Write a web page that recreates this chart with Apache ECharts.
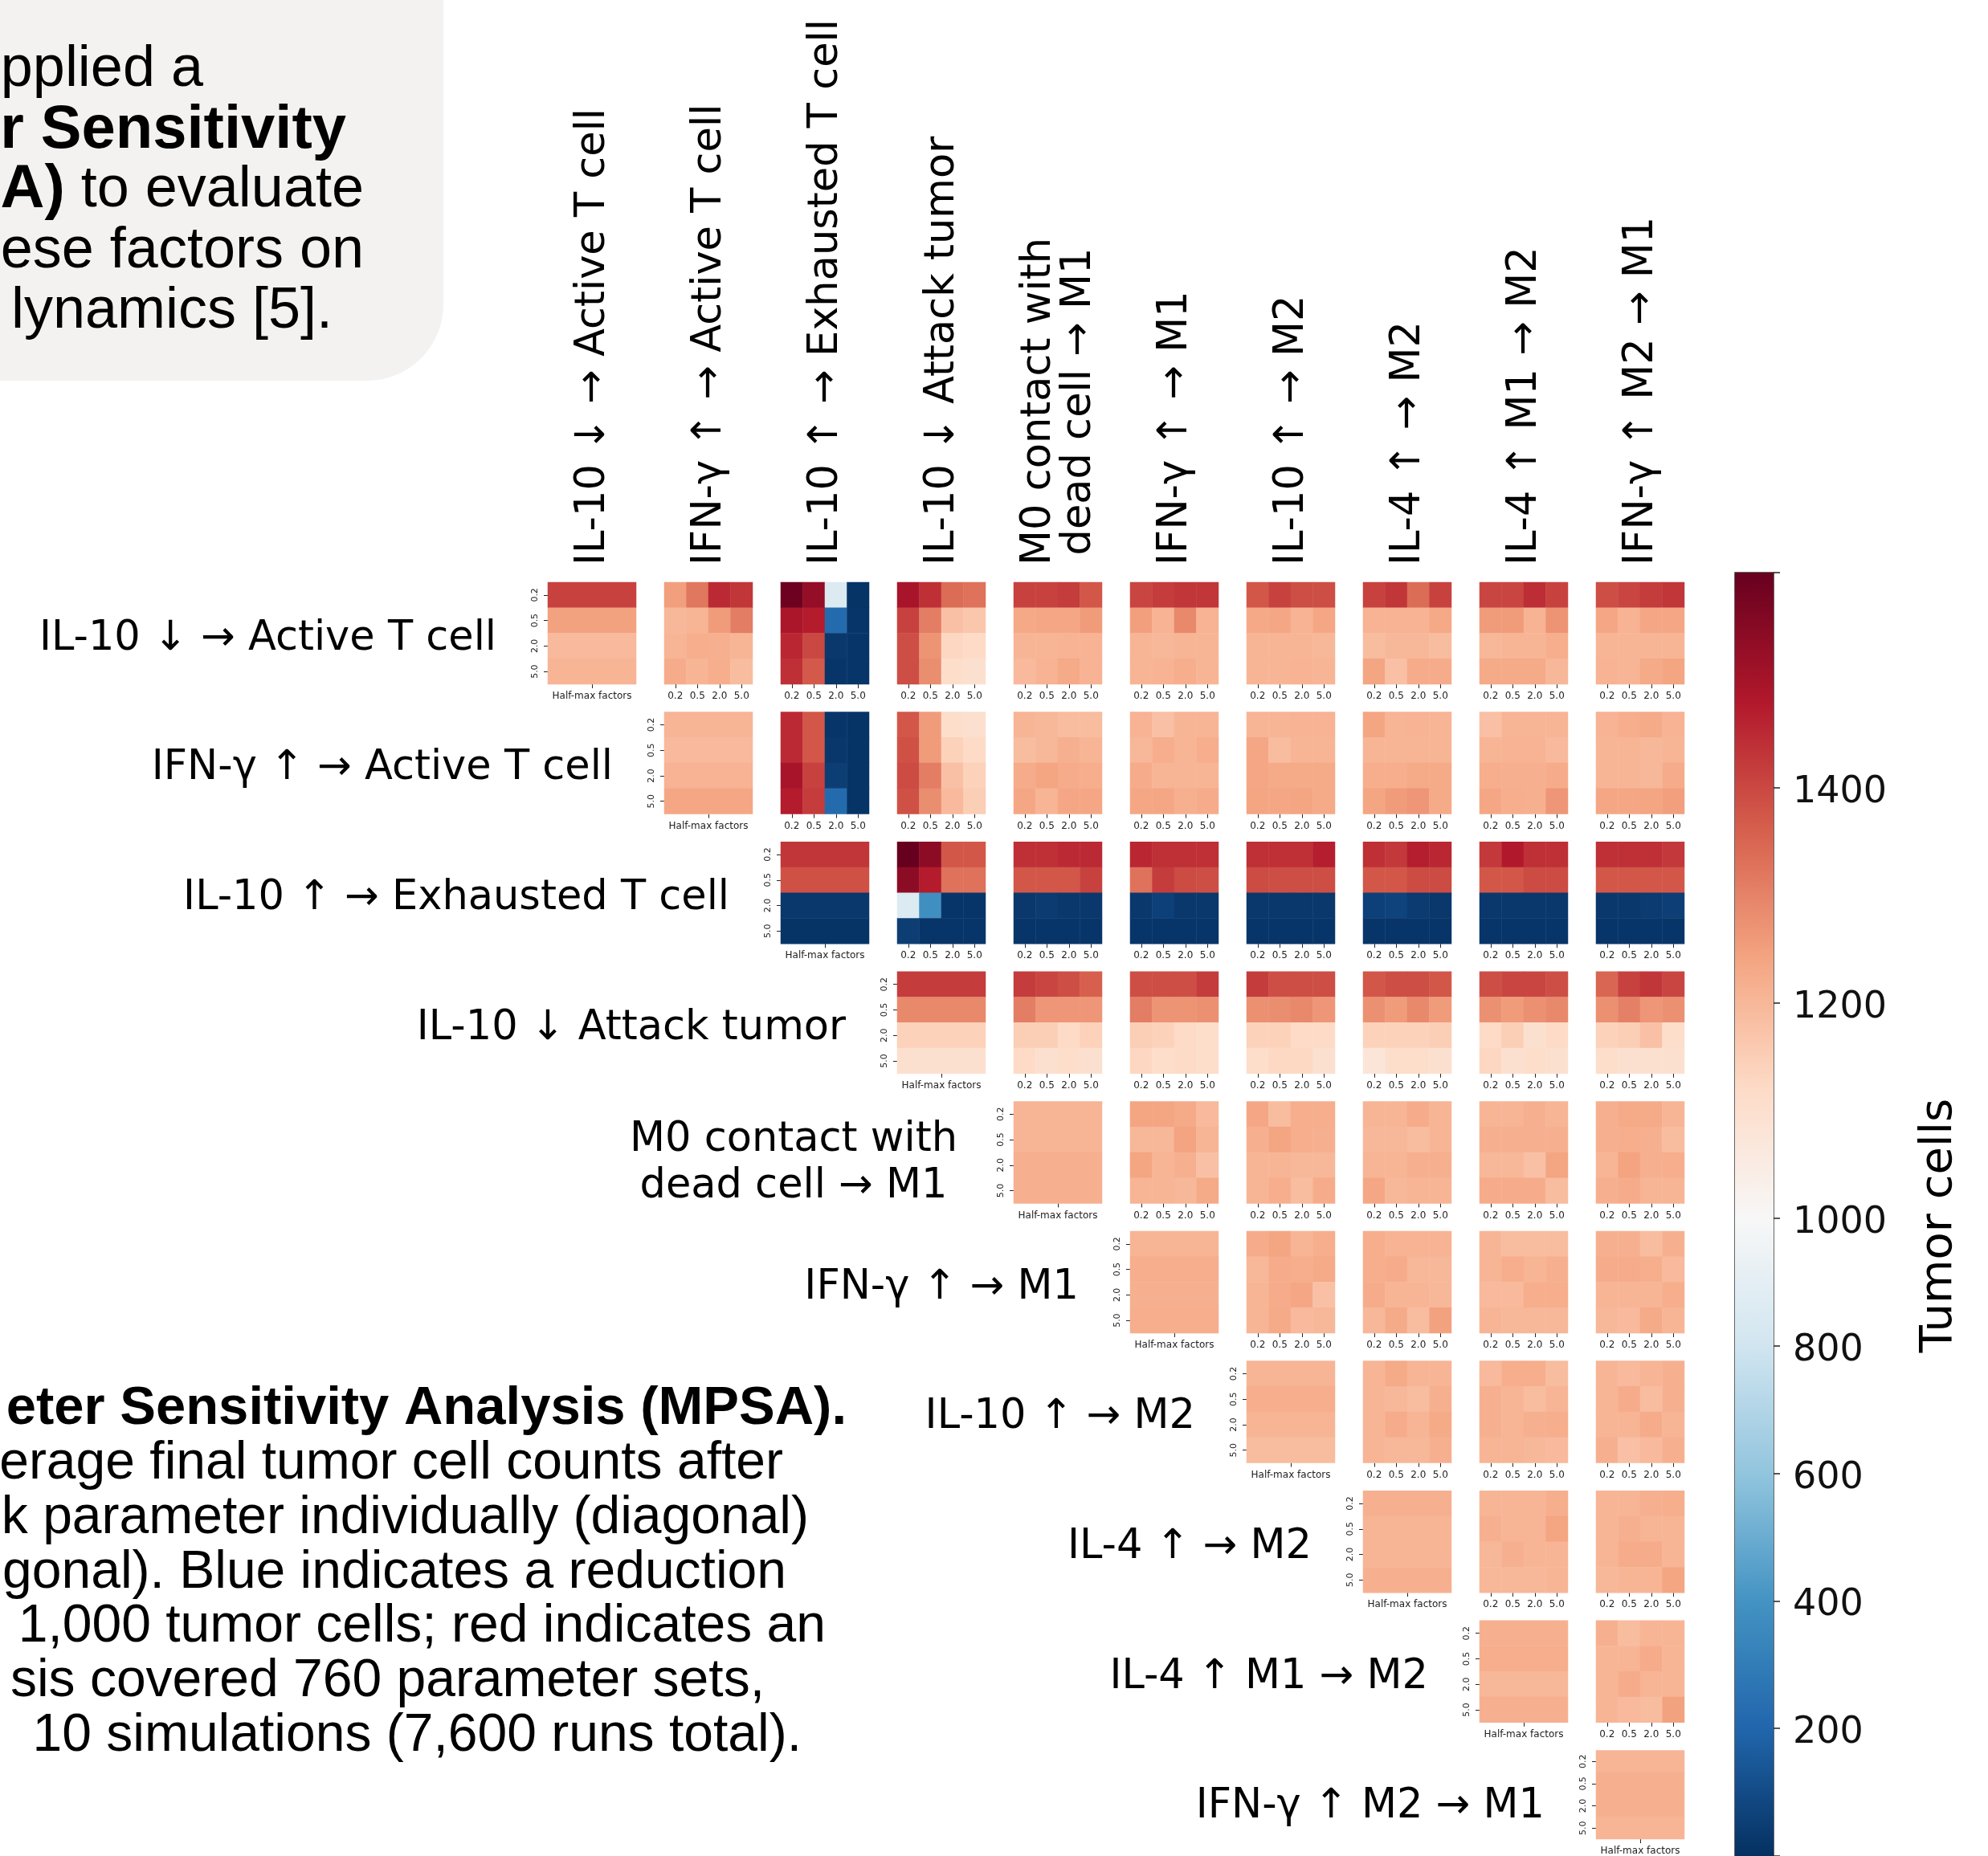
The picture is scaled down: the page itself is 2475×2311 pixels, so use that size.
<!DOCTYPE html>
<html>
<head>
<meta charset="utf-8">
<title>MPSA heatmap matrix</title>
<script src="https://cdn.jsdelivr.net/npm/echarts@6/dist/echarts.min.js"></script>
<style>
    html, body { margin: 0; padding: 0; background: #ffffff; }
    #chart { width: 2475px; height: 2311px; }
</style>
</head>
<body>
<div id="chart"></div>
<script>
// half-max factor levels, the same for every parameter
const factors = ['0.2', '0.5', '2.0', '5.0'];

// the ten parameters (rows and columns of the matrix)
const params = [
    'IL-10 ↓ → Active T cell',
    'IFN-γ ↑ → Active T cell',
    'IL-10 ↑ → Exhausted T cell',
    'IL-10 ↓ Attack tumor',
    'M0 contact with\ndead cell → M1',
    'IFN-γ ↑ → M1',
    'IL-10 ↑ → M2',
    'IL-4 ↑ → M2',
    'IL-4 ↑ M1 → M2',
    'IFN-γ ↑ M2 → M1'
];

// colorbar ticks
const cbUpperTicks = [1000, 1200, 1400];
const cbLowerTicks = [200, 400, 600, 800];

// diagonal: one parameter varied alone (rows = 0.2, 0.5, 2.0, 5.0)
const diagonal = [
    [1410, 1245, 1195, 1205],
    [1205, 1195, 1210, 1235],
    [1430, 1385, 30, 15],
    [1420, 1290, 1140, 1100],
    [1205, 1205, 1215, 1215],
    [1205, 1220, 1215, 1220],
    [1205, 1220, 1205, 1190],
    [1215, 1205, 1205, 1215],
    [1215, 1220, 1200, 1215],
    [1205, 1215, 1215, 1205]
];

// off-diagonal pairs, one array per row; each matrix: rows = row factor, cols = column factor
const pairsRow0 = [
    [[1250, 1320, 1450, 1430], [1200, 1205, 1255, 1310], [1205, 1220, 1215, 1205], [1225, 1205, 1220, 1190]],
    [[1590, 1530, 860, 15], [1490, 1475, 220, 20], [1455, 1400, 30, 20], [1440, 1370, 20, 20]],
    [[1495, 1440, 1340, 1330], [1410, 1310, 1180, 1165], [1390, 1270, 1130, 1120], [1390, 1280, 1110, 1100]],
    [[1410, 1410, 1420, 1375], [1232, 1235, 1235, 1255], [1205, 1205, 1210, 1210], [1195, 1210, 1230, 1210]],
    [[1405, 1420, 1430, 1430], [1250, 1210, 1290, 1210], [1205, 1200, 1205, 1205], [1205, 1210, 1220, 1205]],
    [[1375, 1410, 1390, 1390], [1232, 1235, 1210, 1235], [1205, 1205, 1205, 1200], [1205, 1205, 1210, 1205]],
    [[1410, 1430, 1340, 1410], [1210, 1210, 1210, 1232], [1190, 1200, 1200, 1190], [1240, 1180, 1225, 1225]],
    [[1405, 1405, 1445, 1410], [1255, 1255, 1210, 1270], [1200, 1205, 1205, 1220], [1230, 1230, 1230, 1200]],
    [[1390, 1405, 1420, 1430], [1235, 1210, 1235, 1235], [1205, 1205, 1205, 1205], [1210, 1205, 1230, 1240]]
];
const pairsRow1 = [
    [[1450, 1375, 20, 15], [1450, 1375, 25, 15], [1495, 1410, 50, 15], [1475, 1420, 220, 15]],
    [[1375, 1255, 1110, 1100], [1385, 1255, 1140, 1120], [1395, 1310, 1180, 1140], [1385, 1280, 1195, 1150]],
    [[1205, 1200, 1190, 1190], [1190, 1200, 1215, 1205], [1225, 1240, 1225, 1220], [1235, 1205, 1235, 1235]],
    [[1210, 1180, 1205, 1205], [1200, 1220, 1205, 1220], [1225, 1205, 1205, 1205], [1235, 1235, 1215, 1225]],
    [[1205, 1205, 1210, 1210], [1235, 1190, 1205, 1205], [1235, 1230, 1230, 1230], [1240, 1235, 1240, 1230]],
    [[1240, 1205, 1210, 1205], [1205, 1205, 1205, 1205], [1220, 1220, 1230, 1230], [1240, 1255, 1265, 1230]],
    [[1180, 1205, 1205, 1205], [1205, 1210, 1210, 1195], [1220, 1215, 1215, 1225], [1235, 1220, 1215, 1265]],
    [[1210, 1220, 1230, 1210], [1205, 1205, 1200, 1205], [1205, 1205, 1200, 1225], [1235, 1235, 1240, 1250]]
];
const pairsRow2 = [
    [[1600, 1540, 1375, 1375], [1540, 1475, 1330, 1330], [860, 380, 20, 20], [50, 20, 20, 20]],
    [[1440, 1440, 1450, 1450], [1375, 1375, 1375, 1410], [30, 40, 30, 30], [20, 20, 20, 20]],
    [[1455, 1440, 1440, 1440], [1330, 1420, 1395, 1390], [30, 60, 30, 30], [20, 20, 20, 20]],
    [[1440, 1440, 1440, 1470], [1395, 1390, 1390, 1390], [30, 30, 30, 30], [20, 20, 20, 20]],
    [[1440, 1425, 1470, 1455], [1375, 1375, 1395, 1395], [60, 70, 40, 30], [20, 20, 20, 20]],
    [[1425, 1480, 1440, 1440], [1375, 1375, 1395, 1395], [30, 30, 30, 30], [20, 20, 20, 20]],
    [[1440, 1440, 1440, 1425], [1375, 1375, 1375, 1375], [30, 30, 40, 55], [20, 20, 20, 20]]
];
const pairsRow3 = [
    [[1420, 1405, 1390, 1360], [1310, 1265, 1265, 1265], [1150, 1150, 1120, 1140], [1120, 1100, 1110, 1100]],
    [[1390, 1390, 1390, 1420], [1310, 1270, 1270, 1275], [1150, 1140, 1120, 1110], [1130, 1110, 1120, 1110]],
    [[1420, 1390, 1390, 1390], [1275, 1280, 1290, 1265], [1140, 1140, 1120, 1120], [1110, 1125, 1125, 1100]],
    [[1375, 1390, 1390, 1375], [1275, 1255, 1290, 1255], [1140, 1140, 1140, 1150], [1075, 1110, 1110, 1100]],
    [[1390, 1405, 1405, 1390], [1275, 1255, 1275, 1290], [1120, 1150, 1100, 1120], [1130, 1100, 1110, 1100]],
    [[1350, 1410, 1430, 1405], [1275, 1305, 1265, 1275], [1140, 1150, 1180, 1110], [1110, 1100, 1100, 1100]]
];
const pairsRow4 = [
    [[1240, 1240, 1230, 1195], [1200, 1200, 1242, 1205], [1240, 1205, 1215, 1180], [1205, 1205, 1200, 1230]],
    [[1235, 1190, 1220, 1220], [1215, 1240, 1220, 1215], [1205, 1205, 1200, 1200], [1205, 1220, 1190, 1225]],
    [[1205, 1205, 1225, 1205], [1200, 1200, 1190, 1205], [1205, 1205, 1215, 1215], [1235, 1200, 1205, 1205]],
    [[1205, 1205, 1215, 1205], [1215, 1215, 1215, 1215], [1200, 1200, 1180, 1240], [1225, 1225, 1225, 1190]],
    [[1215, 1230, 1230, 1205], [1215, 1220, 1215, 1190], [1205, 1242, 1215, 1220], [1215, 1225, 1205, 1205]]
];
const pairsRow5 = [
    [[1225, 1240, 1205, 1220], [1200, 1225, 1220, 1230], [1205, 1225, 1235, 1180], [1205, 1230, 1195, 1200]],
    [[1220, 1210, 1210, 1210], [1220, 1225, 1200, 1200], [1225, 1205, 1205, 1200], [1200, 1230, 1190, 1245]],
    [[1205, 1190, 1190, 1190], [1205, 1220, 1205, 1215], [1195, 1195, 1220, 1220], [1205, 1200, 1200, 1200]],
    [[1215, 1215, 1190, 1215], [1225, 1225, 1220, 1195], [1205, 1205, 1205, 1220], [1200, 1195, 1230, 1205]]
];
const pairsRow6 = [
    [[1205, 1230, 1205, 1205], [1205, 1200, 1190, 1215], [1205, 1225, 1205, 1230], [1205, 1200, 1200, 1215]],
    [[1195, 1220, 1220, 1190], [1215, 1205, 1190, 1205], [1215, 1205, 1215, 1220], [1205, 1205, 1200, 1195]],
    [[1205, 1195, 1205, 1215], [1205, 1225, 1190, 1215], [1205, 1205, 1225, 1205], [1215, 1180, 1195, 1215]]
];
const pairsRow7 = [
    [[1205, 1205, 1205, 1220], [1215, 1205, 1205, 1240], [1200, 1215, 1205, 1205], [1200, 1200, 1200, 1205]],
    [[1205, 1205, 1215, 1220], [1205, 1215, 1205, 1205], [1205, 1225, 1225, 1205], [1200, 1205, 1205, 1240]]
];
const pairsRow8 = [
    [[1215, 1190, 1205, 1205], [1205, 1205, 1225, 1205], [1205, 1225, 1205, 1205], [1205, 1195, 1190, 1245]]
];
const pairRows = [pairsRow0, pairsRow1, pairsRow2, pairsRow3, pairsRow4, pairsRow5, pairsRow6, pairsRow7, pairsRow8];

// RdBu_r with a two-slope norm: 0 -> 1000 -> 1600
const rdbuR = ['#053061', '#2166ac', '#4393c3', '#92c5de', '#d1e5f0', '#f7f7f7',
    '#fddbc7', '#f4a582', '#d6604d', '#b2182b', '#67001f'];
const vMin = 0, vCenter = 1000, vMax = 1600;

function norm(v) {
    const t = v < vCenter ? 0.5 * (v - vMin) / (vCenter - vMin) : 0.5 + 0.5 * (v - vCenter) / (vMax - vCenter);
    return Math.max(0, Math.min(1, t));
}
function hexRgb(h) {
    return [parseInt(h.slice(1, 3), 16), parseInt(h.slice(3, 5), 16), parseInt(h.slice(5, 7), 16)];
}
function colorAt(v) {
    const p = norm(v) * 10;
    const i = Math.min(9, Math.floor(p));
    const f = p - i;
    const a = hexRgb(rdbuR[i]), b = hexRgb(rdbuR[i + 1]);
    const c = a.map((x, k) => Math.round(x + (b[k] - x) * f));
    return 'rgb(' + c.join(',') + ')';
}
const cmapStops = [];
for (let v = vMin; v <= vMax; v += 20) cmapStops.push(colorAt(v));

// layout
const colLeft = 682, colStep = 145, cellW = 110;
const rowTop = 725, rowStep = 161.6, cellH = 127;
const fontMain = 'DejaVu Sans';
const fontSlide = 'Liberation Sans';

const grids = [], xAxes = [], yAxes = [], series = [], heatIdx = [];
const tickStyle = { show: true, length: 5, alignWithLabel: true, lineStyle: { color: '#222', width: 1 } };

for (let i = 0; i < 10; i++) {
    for (let j = i; j < 10; j++) {
        const k = grids.length;
        const isDiag = i === j;
        grids.push({
            left: colLeft + colStep * j,
            top: rowTop + rowStep * i,
            width: cellW,
            height: cellH
        });
        xAxes.push({
            type: 'category',
            gridIndex: k,
            data: isDiag ? ['Half-max factors'] : factors,
            axisLine: { show: false },
            axisTick: tickStyle,
            axisLabel: { fontSize: 12, color: '#222', margin: 9, interval: 0, fontFamily: fontMain },
            splitArea: { show: false }
        });
        yAxes.push({
            type: 'category',
            gridIndex: k,
            data: factors,
            inverse: true,
            show: isDiag,
            axisLine: { show: false },
            axisTick: tickStyle,
            axisLabel: { fontSize: 11, color: '#222', rotate: 90, margin: 10, interval: 0, fontFamily: fontMain },
            splitArea: { show: false }
        });
        const data = [];
        if (isDiag) {
            diagonal[i].forEach((v, r) => data.push([0, r, v]));
        } else {
            const m = pairRows[i][j - i - 1];
            m.forEach((row, r) => row.forEach((v, c) => data.push([c, r, v])));
        }
        heatIdx.push(series.length);
        series.push({
            type: 'heatmap',
            xAxisIndex: k,
            yAxisIndex: k,
            data: data,
            emphasis: { disabled: true },
            itemStyle: { borderWidth: 0 }
        });
    }
}

// colorbar: two linear halves stacked
const cbLeft = 2160, cbWidth = 48, cbTop = 713, cbMid = 1517, cbBottom = 2325;
function cbGradient(hi, lo) {
    const stops = [];
    for (let s = 0; s <= 20; s++) {
        const v = hi - (hi - lo) * s / 20;
        stops.push({ offset: s / 20, color: colorAt(v) });
    }
    return new echarts.graphic.LinearGradient(0, 0, 0, 1, stops);
}
const cbHalves = [
    { top: cbTop, height: cbMid - cbTop, min: vCenter, max: vMax, ticks: cbUpperTicks },
    { top: cbMid, height: cbBottom - cbMid, min: vMin, max: vCenter, ticks: cbLowerTicks }
];
cbHalves.forEach(h => {
    const k = grids.length;
    grids.push({ left: cbLeft, width: cbWidth, top: h.top, height: h.height });
    xAxes.push({ type: 'category', gridIndex: k, data: ['cb'], show: false });
    yAxes.push({
        type: 'value',
        gridIndex: k,
        min: h.min,
        max: h.max,
        interval: 200,
        position: 'right',
        axisLine: { show: false },
        splitLine: { show: false },
        axisTick: { show: true, length: 8, lineStyle: { color: '#222', width: 1.5 } },
        axisLabel: {
            fontSize: 46,
            color: '#111',
            margin: 24,
            verticalAlign: 'top',
            lineHeight: 12,
            fontFamily: fontMain,
            formatter: v => (h.ticks.indexOf(v) >= 0 ? String(v) : '')
        }
    });
    series.push({
        type: 'custom',
        xAxisIndex: k,
        yAxisIndex: k,
        silent: true,
        data: [[0, h.min, h.max]],
        renderItem: (p, api) => {
            const top = api.coord([0, api.value(2)]);
            const bot = api.coord([0, api.value(1)]);
            const w = api.size([1, 0])[0];
            return {
                type: 'rect',
                shape: { x: top[0] - w / 2, y: top[1], width: w, height: bot[1] - top[1] },
                style: { fill: cbGradient(api.value(2), api.value(1)) }
            };
        }
    });
});

// texts
const graphics = [];

// slide text box (top-left, cut off)
graphics.push({
    type: 'rect', z: -10,
    shape: { x: -120, y: -120, width: 672, height: 594, r: 95 },
    style: { fill: '#f4f2f1' }
});
const slideTop = [
    { t: 'pplied a', x: 253, y: 87 },
    { t: '{b|r Sensitivity}', x: 431, y: 163 },
    { t: '{b|A)} to evaluate', x: 453, y: 237 },
    { t: 'ese factors on', x: 453, y: 313 },
    { t: 'lynamics [5].', x: 414, y: 388 }
];
slideTop.forEach(l => graphics.push({
    type: 'text', x: l.x, y: l.y,
    style: {
        text: l.t, fill: '#000', fontSize: 72, fontFamily: fontSlide,
        align: 'right', verticalAlign: 'middle',
        rich: { b: { fontWeight: 'bold', fontSize: 76, fontFamily: fontSlide, fill: '#000' } }
    }
}));

const slideBottom = [
    { t: '{b|eter Sensitivity Analysis (MPSA).}', x: 1054, y: 1755 },
    { t: 'erage final tumor cell counts after', x: 975, y: 1823 },
    { t: 'k parameter individually (diagonal)', x: 1007, y: 1891 },
    { t: 'gonal). Blue indicates a reduction', x: 979, y: 1959 },
    { t: '1,000 tumor cells; red indicates an', x: 1028, y: 2026 },
    { t: 'sis covered 760 parameter sets,', x: 952, y: 2094 },
    { t: '10 simulations (7,600 runs total).', x: 998, y: 2162 }
];
slideBottom.forEach(l => graphics.push({
    type: 'text', x: l.x, y: l.y,
    style: {
        text: l.t, fill: '#000', fontSize: 66, fontFamily: fontSlide,
        align: 'right', verticalAlign: 'middle',
        rich: { b: { fontWeight: 'bold', fontSize: 67, fontFamily: fontSlide, fill: '#000' } }
    }
}));

// row labels (left of each diagonal heatmap) and column labels (rotated, on top)
params.forEach((name, i) => {
    const twoLine = name.indexOf('\n') >= 0;
    const diagLeft = colLeft + colStep * i;
    const rowMid = rowTop + rowStep * i + cellH / 2;
    graphics.push({
        type: 'text',
        x: twoLine ? diagLeft - 274 : diagLeft - 64,
        y: twoLine ? rowMid + 14 : rowMid + 7,
        style: {
            text: name, fill: '#000', fontSize: 51, fontFamily: fontMain,
            align: twoLine ? 'center' : 'right', verticalAlign: 'middle', lineHeight: 58
        }
    });
    const colMid = colLeft + colStep * i + cellW / 2;
    graphics.push({
        type: 'text',
        x: colMid + 2,
        y: twoLine ? 500 : 704,
        rotation: Math.PI / 2,
        style: {
            text: name, fill: '#000', fontSize: 51, fontFamily: fontMain,
            align: twoLine ? 'center' : 'left', verticalAlign: 'middle', lineHeight: 50
        }
    });
});

// colorbar outline and title
graphics.push({
    type: 'rect',
    shape: { x: cbLeft, y: cbTop, width: cbWidth, height: cbBottom - cbTop },
    style: { fill: null, stroke: '#333', lineWidth: 1.5 }
});
graphics.push({
    type: 'text', x: 2414, y: 1526, rotation: Math.PI / 2,
    style: {
        text: 'Tumor cells', fill: '#000', fontSize: 56, fontFamily: fontMain,
        align: 'center', verticalAlign: 'middle'
    }
});

const myEcharts = echarts.init(document.getElementById('chart'));
myEcharts.setOption({
    animation: false,
    backgroundColor: '#ffffff',
    textStyle: { fontFamily: fontMain },
    grid: grids,
    xAxis: xAxes,
    yAxis: yAxes,
    visualMap: {
        type: 'continuous',
        show: false,
        min: vMin,
        max: vMax,
        dimension: 2,
        seriesIndex: heatIdx,
        inRange: { color: cmapStops }
    },
    graphic: graphics,
    series: series
});
</script>
</body>
</html>
